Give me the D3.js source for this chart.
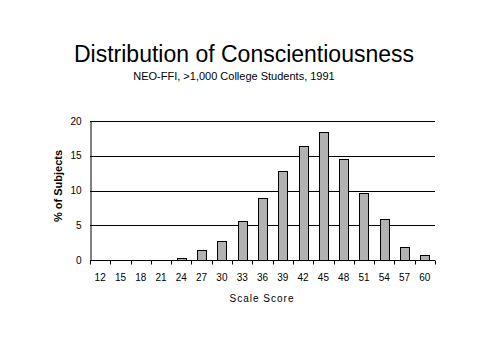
<!DOCTYPE html>
<html><head><meta charset="utf-8">
<script src="https://cdn.jsdelivr.net/npm/d3@7"></script>
<style>body{margin:0;background:#fff}text{font-family:Arial,"Liberation Sans",sans-serif}</style>
</head><body>
<script>
const scores = [12,15,18,21,24,27,30,33,36,39,42,45,48,51,54,57,60];
const percents = [0,0,0,0,0.3,1.5,2.8,5.6,8.9,12.8,16.4,18.4,14.6,9.6,5.9,1.9,0.7];
const yTicks = [0,5,10,15,20];
const title = "Distribution of Conscientiousness";
const subtitle = "NEO-FFI, >1,000 College Students, 1991";

const W=479,H=359;
const svg=d3.select("body").append("svg").attr("width",W).attr("height",H);
const m={l:90,r:44,t:121,b:99};
const x=d3.scaleBand().domain(scores).range([m.l,W-m.r]).paddingInner(0).paddingOuter(0);
const y=d3.scaleLinear().domain([0,20]).range([H-m.b,m.t]);

// gridlines
svg.append("g").selectAll("line").data(yTicks.filter(d=>d>0)).join("line")
 .attr("x1",m.l).attr("x2",W-m.r).attr("y1",d=>Math.round(y(d))+0.5).attr("y2",d=>Math.round(y(d))+0.5)
 .attr("stroke","#000").attr("stroke-width",1);

// bars
const bw=9;
svg.append("g").selectAll("rect").data(scores.map((s,i)=>({s,v:percents[i]})).filter(d=>d.v>0)).join("rect")
 .attr("x",d=>Math.round(x(d.s)+x.bandwidth()/2-bw/2)+0.5)
 .attr("width",bw)
 .attr("y",d=>Math.round(y(d.v))+0.5)
 .attr("height",d=>Math.round(y(0))-Math.round(y(d.v)))
 .attr("fill","#b2b2b2").attr("stroke","#000").attr("stroke-width",1);

// y axis
const ya=svg.append("g").attr("transform",`translate(${m.l+0.5},0)`)
 .call(d3.axisLeft(y).tickValues(yTicks).tickSize(0).tickPadding(9));
ya.select(".domain").attr("stroke","#000");
ya.selectAll("text").attr("font-size",10).attr("fill","#000").attr("font-family","Arial");

// x axis
const xa=svg.append("g").attr("transform",`translate(0,${Math.round(y(0))+0.5})`)
 .call(d3.axisBottom(x).tickSize(0).tickPadding(13));
xa.select(".domain").remove();
xa.append("line").attr("x1",m.l).attr("x2",W-m.r).attr("stroke","#000");
xa.selectAll(".tickmark").data(d3.range(scores.length+1)).join("line")
 .attr("x1",i=>Math.round(m.l+i*x.step())+0.5).attr("x2",i=>Math.round(m.l+i*x.step())+0.5)
 .attr("y1",0).attr("y2",4).attr("stroke","#000");
xa.selectAll("text").attr("font-size",10).attr("fill","#000").attr("font-family","Arial");

// titles
svg.append("text").attr("x",244).attr("y",62).attr("text-anchor","middle").attr("font-size",23).text(title);
svg.append("text").attr("x",234).attr("y",80).attr("text-anchor","middle").attr("font-size",11).text(subtitle);
svg.append("text").attr("x",262).attr("y",302).attr("text-anchor","middle").attr("font-size",10).attr("letter-spacing",1).text("Scale Score");
svg.append("text").attr("transform","translate(62,186) rotate(-90)").attr("text-anchor","middle")
 .attr("font-size",11).attr("font-weight","bold").text("% of Subjects");
</script>
</body></html>
